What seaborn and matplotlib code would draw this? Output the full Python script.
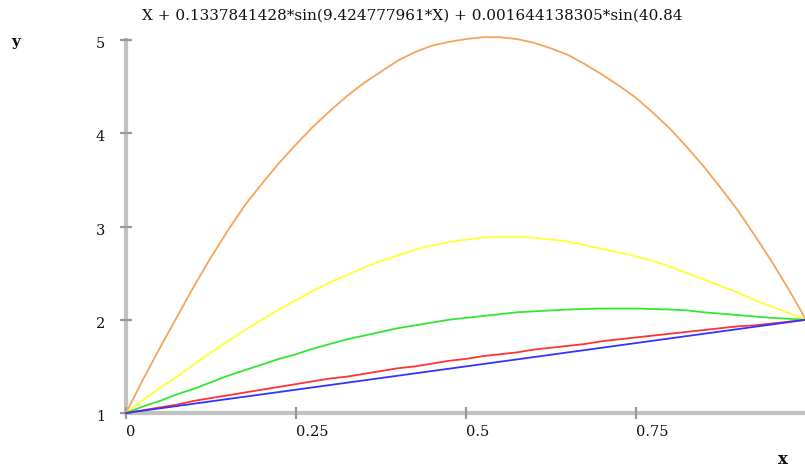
import numpy as np
import pandas as pd
import matplotlib
matplotlib.use("Agg")
import matplotlib.pyplot as plt
import matplotlib.transforms as mtransforms
import seaborn as sns

# ---- data ----
x_vals = [0.000, 0.025, 0.050, 0.075, 0.100, 0.125, 0.150, 0.175, 0.200, 0.225,
          0.250, 0.275, 0.300, 0.325, 0.350, 0.375, 0.400, 0.425, 0.450, 0.475,
          0.500, 0.525, 0.550, 0.575, 0.600, 0.625, 0.650, 0.675, 0.700, 0.725,
          0.750, 0.775, 0.800, 0.825, 0.850, 0.875, 0.900, 0.925, 0.950, 0.975,
          1.000]
orange_y = [1.00, 1.36, 1.70, 2.03, 2.36, 2.67, 2.96, 3.23, 3.46, 3.68,
            3.88, 4.07, 4.24, 4.40, 4.54, 4.66, 4.78, 4.87, 4.94, 4.98,
            5.01, 5.03, 5.03, 5.01, 4.97, 4.91, 4.84, 4.74, 4.63, 4.51,
            4.38, 4.22, 4.05, 3.85, 3.64, 3.41, 3.17, 2.90, 2.62, 2.32,
            2.00]
yellow_y = [1.00, 1.14, 1.27, 1.39, 1.52, 1.65, 1.77, 1.89, 2.00, 2.11,
            2.21, 2.31, 2.40, 2.48, 2.56, 2.63, 2.69, 2.75, 2.80, 2.83,
            2.86, 2.88, 2.89, 2.89, 2.88, 2.86, 2.84, 2.80, 2.76, 2.72,
            2.68, 2.63, 2.57, 2.50, 2.43, 2.36, 2.29, 2.21, 2.14, 2.07,
            2.00]
green_y = [1.00, 1.07, 1.13, 1.20, 1.26, 1.33, 1.40, 1.46, 1.52, 1.58,
           1.63, 1.69, 1.74, 1.79, 1.83, 1.87, 1.91, 1.94, 1.97, 2.00,
           2.02, 2.04, 2.06, 2.08, 2.09, 2.10, 2.11, 2.115, 2.12, 2.12,
           2.12, 2.115, 2.11, 2.10, 2.08, 2.065, 2.05, 2.035, 2.02, 2.01,
           2.00]
red_y = [1.00, 1.03, 1.06, 1.09, 1.13, 1.16, 1.19, 1.22, 1.25, 1.28,
         1.31, 1.34, 1.37, 1.39, 1.42, 1.45, 1.48, 1.50, 1.53, 1.56,
         1.58, 1.61, 1.63, 1.65, 1.68, 1.70, 1.72, 1.74, 1.77, 1.79,
         1.81, 1.83, 1.85, 1.87, 1.89, 1.91, 1.93, 1.94, 1.96, 1.98,
         2.00]
blue_y = [1.000, 1.025, 1.050, 1.075, 1.100, 1.125, 1.150, 1.175, 1.200, 1.225,
          1.250, 1.275, 1.300, 1.325, 1.350, 1.375, 1.400, 1.425, 1.450, 1.475,
          1.500, 1.525, 1.550, 1.575, 1.600, 1.625, 1.650, 1.675, 1.700, 1.725,
          1.750, 1.775, 1.800, 1.825, 1.850, 1.875, 1.900, 1.925, 1.950, 1.975,
          2.000]

series_names = ["orange", "yellow", "green", "red", "blue"]
series_vals = [orange_y, yellow_y, green_y, red_y, blue_y]
series_colors = ["#f7a35c", "#ffff33", "#33e633", "#ff3333", "#3333ff"]

x_ticks = [0, 0.25, 0.5, 0.75]
x_tick_labels = ["0", "0.25", "0.5", "0.75"]
y_ticks = [1, 2, 3, 4, 5]
y_tick_labels = ["1", "2", "3", "4", "5"]

title_text = "X + 0.1337841428*sin(9.424777961*X) + 0.001644138305*sin(40.84"

rows = []
for name, vals in zip(series_names, series_vals):
    for xv, yv in zip(x_vals, vals):
        rows.append({"x": xv, "y": yv, "series": name})
df = pd.DataFrame(rows)

# ---- figure ----
sns.set_theme(style="white")
plt.rcParams["font.family"] = ["DejaVu Serif"]

W, H = 805, 466
fig = plt.figure(figsize=(W / 100, H / 100), dpi=100)
ax = fig.add_axes([126 / W, (H - 413) / H, 680 / W, 373 / H])

sns.lineplot(data=df, x="x", y="y", hue="series", hue_order=series_names,
             palette=dict(zip(series_names, series_colors)), legend=False,
             linewidth=1.3, ax=ax, estimator=None, sort=False)
for line in ax.get_lines():
    line.set_clip_on(False)
    line.set_solid_joinstyle("round")

ax.set_xlim(0, 1)
ax.set_ylim(1, 5)
ax.set_xticks(x_ticks)
ax.set_xticklabels(x_tick_labels)
ax.set_yticks(y_ticks)
ax.set_yticklabels(y_tick_labels)
ax.set_xlabel("")
ax.set_ylabel("")

for s in ["top", "right"]:
    ax.spines[s].set_visible(False)
for s in ["left", "bottom"]:
    ax.spines[s].set_color("#c2c2c2")
    ax.spines[s].set_linewidth(3)
    ax.spines[s].set_zorder(0.5)

ax.tick_params(axis="both", which="major", bottom=True, left=True,
               direction="inout", length=8, width=1.6,
               color="#9a9a9a", labelsize=10.5, labelcolor="#111111")
ax.tick_params(axis="x", pad=5)
ax.tick_params(axis="y", pad=11)
for lab in ax.get_xticklabels():
    lab.set_horizontalalignment("left")
shift = mtransforms.ScaledTranslation(0, -2.5 / 100, fig.dpi_scale_trans)
for lab in ax.get_yticklabels():
    lab.set_transform(lab.get_transform() + shift)

fig.text(412 / W, 1 - 16 / H, title_text, ha="center", va="center",
         fontsize=11, color="#111111")
fig.text(16 / W, 1 - 42 / H, "y", ha="center", va="center",
         fontsize=11, fontweight="bold", color="#111111")
fig.text(783 / W, 1 - 459 / H, "x", ha="center", va="center",
         fontsize=12, fontweight="bold", color="#111111")

fig.savefig("out.png", dpi=100)
